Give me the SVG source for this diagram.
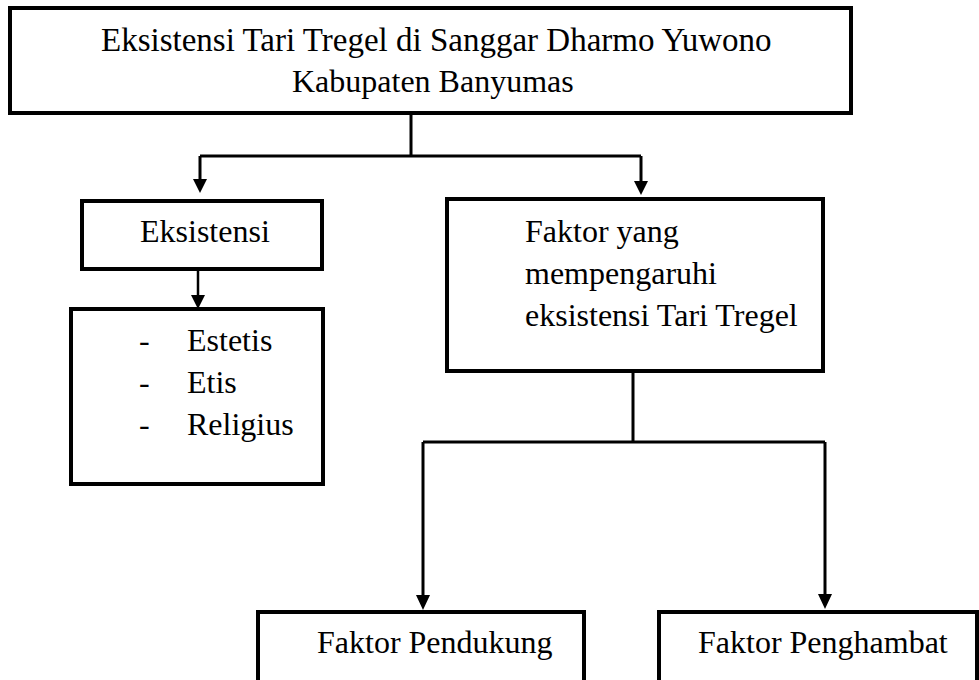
<svg xmlns="http://www.w3.org/2000/svg" width="979" height="680" viewBox="0 0 979 680">
<defs>
<style>
.box{fill:#fff;stroke:#000;stroke-width:4}
.c{fill:none;stroke:#000;stroke-width:3}
.c2{fill:none;stroke:#000;stroke-width:2.5}
.h{fill:#000;stroke:none}
</style>
</defs>
<rect width="979" height="680" fill="#fff"/>
<g id="connectors">
<path class="c" d="M411,114 V156 M200,156 H641"/>
<path class="c" d="M200,156 V180"/>
<path class="h" d="M193,179 H207 L200,193 Z"/>
<path class="c" d="M641,156 V182"/>
<path class="h" d="M634,181 H648 L641,195 Z"/>
<path class="c2" d="M198,269 V296"/>
<path class="h" d="M191,295 H205 L198,309 Z"/>
<path class="c" d="M633,371 V442 M423,442 H825"/>
<path class="c" d="M423,442 V596"/>
<path class="h" d="M416,595 H430 L423,610 Z"/>
<path class="c" d="M825,442 V595"/>
<path class="h" d="M818,594 H832 L825,609 Z"/>
</g>
<g id="node-title">
<rect class="box" x="10" y="8" width="841" height="105"/>
<text x="101" y="51" font-family="Liberation Serif" font-size="33">Eksistensi Tari Tregel di Sanggar Dharmo Yuwono</text>
<text x="292" y="92" font-family="Liberation Serif" font-size="32">Kabupaten Banyumas</text>
</g>
<g id="node-eksistensi">
<rect class="box" x="82" y="201" width="240" height="68"/>
<text x="140" y="242" font-family="Liberation Serif" font-size="32">Eksistensi</text>
</g>
<g id="node-list">
<rect class="box" x="71" y="309" width="252" height="175"/>
<text x="139" y="351" font-family="Liberation Serif" font-size="32">-</text>
<text x="187" y="351" font-family="Liberation Serif" font-size="32">Estetis</text>
<text x="139" y="393" font-family="Liberation Serif" font-size="32">-</text>
<text x="187" y="393" font-family="Liberation Serif" font-size="32">Etis</text>
<text x="139" y="435" font-family="Liberation Serif" font-size="32">-</text>
<text x="187" y="435" font-family="Liberation Serif" font-size="32">Religius</text>
</g>
<g id="node-faktor">
<rect class="box" x="447" y="199" width="376" height="172"/>
<text x="525" y="242" font-family="Liberation Serif" font-size="32">Faktor yang</text>
<text x="525" y="284" font-family="Liberation Serif" font-size="32">mempengaruhi</text>
<text x="525" y="326" font-family="Liberation Serif" font-size="32">eksistensi Tari Tregel</text>
</g>
<g id="node-pendukung">
<rect class="box" x="258" y="612" width="326" height="80"/>
<text x="317" y="653" font-family="Liberation Serif" font-size="32">Faktor Pendukung</text>
</g>
<g id="node-penghambat">
<rect class="box" x="659" y="612" width="318" height="80"/>
<text x="698" y="653" font-family="Liberation Serif" font-size="32">Faktor Penghambat</text>
</g>
</svg>
